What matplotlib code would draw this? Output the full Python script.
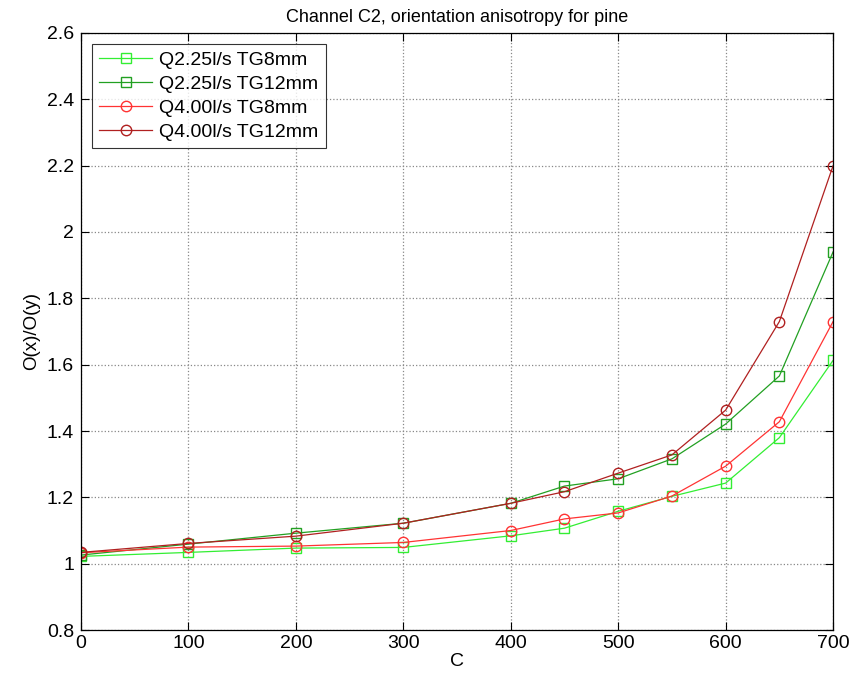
import matplotlib
matplotlib.use('Agg')
import matplotlib.pyplot as plt

x = [0, 100, 200, 300, 400, 450, 500, 550, 600, 650, 700]

q225_tg8 = [1.022, 1.034, 1.047, 1.049, 1.084, 1.107, 1.158, 1.203, 1.243, 1.380, 1.613]
q225_tg12 = [1.026, 1.059, 1.092, 1.122, 1.182, 1.234, 1.256, 1.316, 1.421, 1.566, 1.940]
q400_tg8 = [1.033, 1.050, 1.053, 1.064, 1.100, 1.135, 1.153, 1.204, 1.294, 1.428, 1.730]
q400_tg12 = [1.034, 1.061, 1.083, 1.122, 1.182, 1.217, 1.273, 1.328, 1.463, 1.730, 2.200]

labels = ['Q2.25l/s TG8mm', 'Q2.25l/s TG12mm', 'Q4.00l/s TG8mm', 'Q4.00l/s TG12mm']
colors = ['#33ee33', '#22a022', '#ff3333', '#b02020']
markers = ['s', 's', 'o', 'o']

plt.rcParams['font.family'] = ['Liberation Sans', 'DejaVu Sans']

fig = plt.figure(figsize=(8.66, 6.80), dpi=100)
ax = fig.add_axes([0.0935, 0.0735, 0.8685, 0.878])

series = [q225_tg8, q225_tg12, q400_tg8, q400_tg12]
for s, lab, c, m in zip(series, labels, colors, markers):
    ax.plot(x, s, color=c, marker=m, markerfacecolor='none', markeredgecolor=c,
            markersize=7.5 if m == 'o' else 6.5, linewidth=0.9, label=lab)

ax.set_xlim(0, 700)
ax.set_ylim(0.8, 2.6)
ax.set_xticks(range(0, 701, 100))
ax.set_yticks([0.8, 1, 1.2, 1.4, 1.6, 1.8, 2, 2.2, 2.4, 2.6])
ax.set_yticklabels(['0.8', '1', '1.2', '1.4', '1.6', '1.8', '2', '2.2', '2.4', '2.6'])
ax.grid(True, linestyle=':', color='#888888', linewidth=0.9)
ax.tick_params(direction='in', top=True, right=True, labelsize=14, length=6)
ax.tick_params(axis='y', pad=5)
for sp in ax.spines.values():
    sp.set_linewidth(0.9)

ax.set_xlabel('C', fontsize=14, labelpad=1)
ax.set_ylabel('O(x)/O(y)', fontsize=13.5, labelpad=5)
ax.set_title('Channel C2, orientation anisotropy for pine', fontsize=13, pad=8)

leg = ax.legend(loc='upper left', fontsize=14, fancybox=False, edgecolor='black',
                handlelength=2.7, handletextpad=0.35, borderaxespad=0.55,
                labelspacing=0.32, borderpad=0.4)
leg.get_frame().set_linewidth(0.8)

fig.savefig('out.png', dpi=100)
